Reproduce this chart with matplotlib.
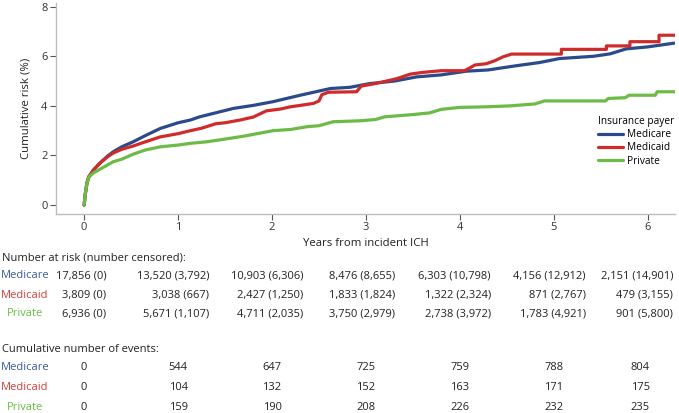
import matplotlib
matplotlib.use("Agg")
import matplotlib.pyplot as plt
from matplotlib import transforms

plt.rcParams['font.family'] = ['Open Sans', 'DejaVu Sans']

# ---- data ----
medicare_t = [0, 0.01, 0.03, 0.05, 0.064, 0.1, 0.17, 0.25, 0.31, 0.4, 0.52, 0.65, 0.81, 1.0, 1.13,
              1.23, 1.4, 1.59, 1.8, 2.01, 2.3, 2.62, 2.83, 3.04, 3.3, 3.54, 3.8, 4.07, 4.3, 4.6,
              4.85, 5.06, 5.42, 5.6, 5.77, 6.0, 6.28]
medicare_y = [0, 0.4, 0.9, 1.15, 1.21, 1.42, 1.7, 1.98, 2.15, 2.35, 2.55, 2.8, 3.09, 3.32, 3.43,
              3.56, 3.72, 3.9, 4.02, 4.17, 4.43, 4.7, 4.75, 4.9, 5.0, 5.17, 5.25, 5.4, 5.45, 5.62,
              5.75, 5.91, 6.0, 6.1, 6.3, 6.38, 6.53]

medicaid_t = [0, 0.01, 0.03, 0.05, 0.064, 0.1, 0.17, 0.25, 0.31, 0.4, 0.52, 0.65, 0.81, 1.0, 1.13,
              1.25, 1.4, 1.5, 1.66, 1.8, 1.94, 2.1, 2.19, 2.3, 2.44, 2.5, 2.53, 2.6, 2.9, 2.95,
              3.1, 3.33, 3.47, 3.6, 3.8, 4.05, 4.1, 4.16, 4.28, 4.37, 4.46, 4.55, 5.08, 5.08,
              5.56, 5.56, 5.81, 5.81, 6.12, 6.12, 6.29]
medicaid_y = [0, 0.4, 0.9, 1.15, 1.22, 1.42, 1.7, 1.95, 2.1, 2.25, 2.38, 2.55, 2.75, 2.88, 3.0,
              3.1, 3.28, 3.32, 3.43, 3.55, 3.8, 3.88, 3.96, 4.02, 4.1, 4.2, 4.45, 4.55, 4.57, 4.8,
              4.9, 5.1, 5.28, 5.35, 5.42, 5.42, 5.52, 5.65, 5.7, 5.82, 5.98, 6.09, 6.09, 6.28,
              6.28, 6.42, 6.42, 6.59, 6.59, 6.85, 6.85]

private_t = [0, 0.01, 0.03, 0.05, 0.064, 0.1, 0.17, 0.25, 0.31, 0.4, 0.52, 0.65, 0.81, 1.0, 1.13,
             1.3, 1.48, 1.7, 2.01, 2.2, 2.37, 2.5, 2.65, 2.94, 3.1, 3.2, 3.5, 3.68, 3.8, 4.0,
             4.25, 4.53, 4.8, 4.9, 5.55, 5.58, 5.76, 5.8, 6.08, 6.1, 6.29]
private_y = [0, 0.4, 0.9, 1.12, 1.18, 1.3, 1.45, 1.62, 1.75, 1.85, 2.05, 2.22, 2.35, 2.42, 2.49,
             2.55, 2.65, 2.78, 3.0, 3.05, 3.16, 3.2, 3.36, 3.4, 3.45, 3.56, 3.65, 3.72, 3.86,
             3.94, 3.96, 4.0, 4.08, 4.2, 4.2, 4.3, 4.33, 4.43, 4.43, 4.57, 4.57]

groups = ["Medicare", "Medicaid", "Private"]
years = [0, 1, 2, 3, 4, 5, 6]
at_risk = {
    "Medicare": ["17,856 (0)", "13,520 (3,792)", "10,903 (6,306)", "8,476 (8,655)",
                 "6,303 (10,798)", "4,156 (12,912)", "2,151 (14,901)"],
    "Medicaid": ["3,809 (0)", "3,038 (667)", "2,427 (1,250)", "1,833 (1,824)",
                 "1,322 (2,324)", "871 (2,767)", "479 (3,155)"],
    "Private": ["6,936 (0)", "5,671 (1,107)", "4,711 (2,035)", "3,750 (2,979)",
                "2,738 (3,972)", "1,783 (4,921)", "901 (5,800)"],
}
events = {
    "Medicare": [0, 544, 647, 725, 759, 788, 804],
    "Medicaid": [0, 104, 132, 152, 163, 171, 175],
    "Private": [0, 159, 190, 208, 226, 232, 235],
}

line_colors = {"Medicare": "#2b4a8b", "Medicaid": "#d02b2b", "Private": "#6cbb46"}
text_colors = {"Medicare": "#3a5a9e", "Medicaid": "#d23f3a", "Private": "#6cbb46"}

W, H = 679, 413
fig = plt.figure(figsize=(W / 100, H / 100), dpi=100)
ax = fig.add_axes([56 / W, 1 - 214 / H, (675 - 56) / W, (214 - 3) / H])

series = {"Medicare": (medicare_t, medicare_y),
          "Medicaid": (medicaid_t, medicaid_y),
          "Private": (private_t, private_y)}
for g in groups:
    t, y = series[g]
    ax.plot(t, y, color=line_colors[g], lw=2.3, label=g, solid_capstyle='round',
            solid_joinstyle='round')

ax.set_xlim(-0.30, 6.29)
ax.set_ylim(-0.36, 8.15)
ax.set_xticks(years)
ax.set_yticks([0, 2, 4, 6, 8])
for s in ["top", "right"]:
    ax.spines[s].set_visible(False)
for s in ["left", "bottom"]:
    ax.spines[s].set_color("#bdbdbd")
    ax.spines[s].set_linewidth(1.0)
ax.tick_params(axis="both", colors="#555555", labelcolor="#333333", labelsize=8,
               length=4, width=0.8, pad=2)
ax.set_xlabel("Years from incident ICH", fontsize=8.2, color="#222222", labelpad=3)
ax.set_ylabel("Cumulative risk (%)", fontsize=8.2, color="#222222", labelpad=7)

leg = ax.legend(title="Insurance payer", loc="upper right", frameon=False,
                bbox_to_anchor=(674 / W, 1 - 116 / H), bbox_transform=fig.transFigure,
                fontsize=7.3, title_fontsize=7.3, handlelength=2.5, handletextpad=0.35,
                labelspacing=0.22, borderpad=0, borderaxespad=0)
leg._legend_box.align = "left"
for lh in leg.get_lines():
    lh.set_linewidth(2.3)

# ---- risk table below ----
tr = transforms.blended_transform_factory(ax.transData, fig.transFigure)
def fy(py):
    return 1 - py / H

fs = 8
fig.text(2 / W, fy(258), "Number at risk (number censored):", fontsize=fs, va="center",
         ha="left", color="#222222")
fig.text(2 / W, fy(349), "Cumulative number of events:", fontsize=fs, va="center",
         ha="left", color="#222222")

risk_rows = [276, 295, 314]
event_rows = [368, 388, 407]
risk_right = [0.235, 1.33, 2.33, 3.31, 4.33, 5.34, 6.27]
event_center = [0, 1, 2, 3, 4, 5, 5.92]
for i, g in enumerate(groups):
    fig.text(25 / W, fy(risk_rows[i]), g, fontsize=fs, ha="center", va="center",
             color=text_colors[g])
    fig.text(25 / W, fy(event_rows[i]), g, fontsize=fs, ha="center", va="center",
             color=text_colors[g])
    for j, yr in enumerate(years):
        ax.text(risk_right[j], fy(risk_rows[i]), at_risk[g][j], transform=tr, fontsize=fs,
                ha="right", va="center", color="#222222", clip_on=False)
        ax.text(event_center[j], fy(event_rows[i]), f"{events[g][j]}", transform=tr,
                fontsize=fs, ha="center", va="center", color="#222222", clip_on=False)

fig.savefig("out.png", dpi=100)
